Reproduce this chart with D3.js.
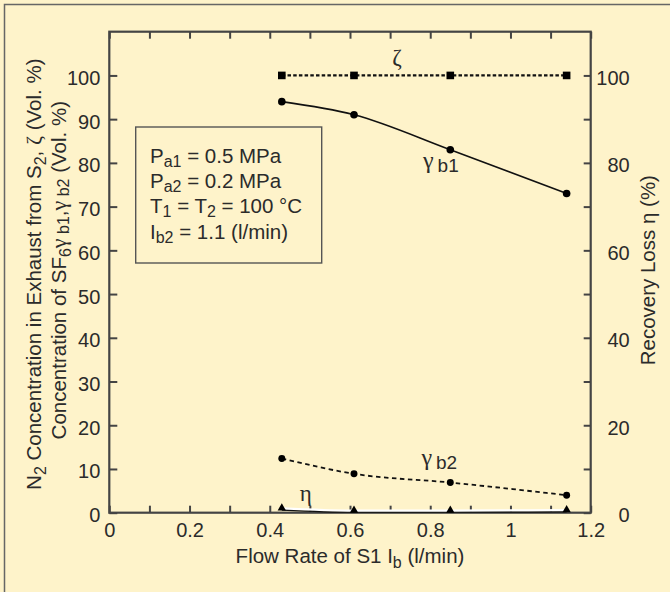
<!DOCTYPE html>
<html>
<head>
<meta charset="utf-8">
<script src="https://cdn.jsdelivr.net/npm/d3@7"></script>
<style>
  body { margin: 0; background: #fef3ca; }
  svg { display: block; font-family: "Liberation Sans", Arial, Helvetica, sans-serif; }
</style>
</head>
<body>
<svg id="chart" width="670" height="592"></svg>
<script>
// flow rate of S1 (l/min)
var flowRate = [0.43, 0.61, 0.85, 1.14];
// series values
var zeta = [100, 100, 100, 100];
var gammaB1 = [94, 91, 83, 73];
var gammaB2 = [12.4, 8.9, 6.9, 4.0];
var eta = [0.6, 0.1, 0.1, 0.2];

var xTicks = [0, 0.1, 0.2, 0.3, 0.4, 0.5, 0.6, 0.7, 0.8, 0.9, 1.0, 1.1, 1.2];
var xTickLabels = [0, 0.2, 0.4, 0.6, 0.8, 1, 1.2];
var leftTicks = [0, 10, 20, 30, 40, 50, 60, 70, 80, 90, 100];
var rightTicks = [0, 10, 20, 30, 40, 50, 60, 70, 80, 90, 100];
var rightTickLabels = [0, 20, 40, 60, 80, 100];

var ink = "#2b2b2b";
var axisInk = "#444";
var fs = 20.5, fsSub = 16;

var svg = d3.select("#chart");

// outer frame (only top/left visible, like the reference)
svg.append("rect")
  .attr("x", 4.5).attr("y", 4.5)
  .attr("width", 680).attr("height", 600)
  .attr("fill", "#fef3ca")
  .attr("stroke", "#666").attr("stroke-width", 1.5);

var pLeft = 109.3, pRight = 590.7, pTop = 31.7, pBottom = 512.7;

var x = d3.scaleLinear().domain([0, 1.2]).range([pLeft, pRight]);
var y = d3.scaleLinear().domain([0, 110]).range([pBottom, pTop]);
var yR = d3.scaleLinear().domain([0, 110]).range([pBottom, pTop]);

function fmtX(d) {
  return xTickLabels.some(function(v) { return Math.abs(v - d) < 1e-6; }) ? d3.format("~g")(d) : "";
}

function styleAxis(g) {
  g.select(".domain").remove();
  g.selectAll(".tick line").attr("stroke", axisInk).attr("stroke-width", 2);
  g.selectAll(".tick text").attr("fill", ink).attr("font-size", 20);
}

svg.append("g")
  .attr("transform", "translate(0," + pBottom + ")")
  .call(d3.axisBottom(x).tickValues(xTicks).tickSize(-7).tickPadding(10).tickFormat(fmtX))
  .call(styleAxis);

svg.append("g")
  .attr("transform", "translate(0," + pTop + ")")
  .call(d3.axisTop(x).tickValues(xTicks).tickSize(-7).tickFormat(""))
  .call(styleAxis);

svg.append("g")
  .attr("transform", "translate(" + pLeft + ",0)")
  .call(d3.axisLeft(y).tickValues(leftTicks).tickSize(-8).tickPadding(9))
  .call(styleAxis)
  .call(function(g) { g.selectAll(".tick text").attr("dy", "0.45em"); });

svg.append("g")
  .attr("transform", "translate(" + pRight + ",0)")
  .call(d3.axisRight(yR).tickValues(rightTicks).tickSize(-7)
    .tickFormat(function(d) { return rightTickLabels.indexOf(d) >= 0 ? d : ""; }))
  .call(styleAxis)
  .call(function(g) {
    g.selectAll(".tick text").attr("x", 39).attr("text-anchor", "end").attr("dy", "0.45em");
  });

// plot frame
svg.append("rect")
  .attr("x", pLeft).attr("y", pTop)
  .attr("width", pRight - pLeft).attr("height", pBottom - pTop)
  .attr("fill", "none").attr("stroke", axisInk).attr("stroke-width", 2.2);

// series
function pts(vals) {
  return flowRate.map(function(f, i) { return [f, vals[i]]; });
}
var line = d3.line()
  .x(function(d) { return x(d[0]); })
  .y(function(d) { return y(d[1]); })
  .curve(d3.curveMonotoneX);

var plot = svg.append("g");

// eta: light line along the axis
plot.append("path").attr("d", line(pts(eta)))
  .attr("fill", "none").attr("stroke", "#fff").attr("stroke-width", 2.5)
  .attr("transform", "translate(0,-1.5)");
plot.append("path").attr("d", line(pts(eta)))
  .attr("fill", "none").attr("stroke", "#111").attr("stroke-width", 1.2);

plot.append("path").attr("d", line(pts(zeta)))
  .attr("fill", "none").attr("stroke", "#111").attr("stroke-width", 2.2)
  .attr("stroke-dasharray", "3.5,2.2");

plot.append("path").attr("d", line(pts(gammaB1)))
  .attr("fill", "none").attr("stroke", "#111").attr("stroke-width", 1.6);

plot.append("path").attr("d", line(pts(gammaB2)))
  .attr("fill", "none").attr("stroke", "#111").attr("stroke-width", 1.8)
  .attr("stroke-dasharray", "4.5,3.5");

plot.selectAll(".sq").data(pts(zeta)).enter().append("rect")
  .attr("x", function(d) { return x(d[0]) - 3.8; })
  .attr("y", function(d) { return y(d[1]) - 3.8; })
  .attr("width", 7.6).attr("height", 7.6).attr("fill", "#000");

plot.selectAll(".c1").data(pts(gammaB1)).enter().append("circle")
  .attr("cx", function(d) { return x(d[0]); })
  .attr("cy", function(d) { return y(d[1]); })
  .attr("r", 3.8).attr("fill", "#000");

plot.selectAll(".c2").data(pts(gammaB2)).enter().append("path")
  .attr("transform", function(d) { return "translate(" + x(d[0]) + "," + y(d[1]) + ")"; })
  .attr("d", d3.symbol().type(d3.symbolCircle).size(38))
  .attr("fill", "#000");

plot.selectAll(".tri").data(pts(eta)).enter().append("path")
  .attr("transform", function(d) { return "translate(" + x(d[0]) + "," + (yR(d[1]) - 2) + ")"; })
  .attr("d", d3.symbol().type(d3.symbolTriangle).size(30))
  .attr("fill", "#000");

// series labels (placed in data units)
var greek = "'Liberation Serif', 'Times New Roman', serif";

svg.append("text")
  .attr("x", x(0.717)).attr("y", y(102.3))
  .attr("text-anchor", "middle").attr("font-family", greek)
  .attr("font-size", 23).attr("fill", ink).text("ζ");

function gammaLabel(fx, fy, sub) {
  var t = svg.append("text").attr("x", x(fx)).attr("y", y(fy)).attr("fill", ink);
  t.append("tspan").attr("font-family", greek).attr("font-size", 24).text("γ");
  t.append("tspan").attr("dx", 4).attr("dy", 4).attr("font-size", 19).text(sub);
}
gammaLabel(0.782, 78.8, "b1");
gammaLabel(0.778, 10.9, "b2");

svg.append("text")
  .attr("x", x(0.475)).attr("y", y(2.6))
  .attr("font-family", greek).attr("font-size", 23)
  .attr("fill", ink).text("η");

// parameter box
svg.append("rect")
  .attr("x", 135.7).attr("y", 127)
  .attr("width", 186).attr("height", 136)
  .attr("fill", "none").attr("stroke", "#555").attr("stroke-width", 1.4);

var boxLines = [
  [["P", ""], ["a1", "sub"], [" = 0.5 MPa", ""]],
  [["P", ""], ["a2", "sub"], [" = 0.2 MPa", ""]],
  [["T", ""], ["1", "sub"], [" = T", ""], ["2", "sub"], [" = 100 °C", ""]],
  [["I", ""], ["b2", "sub"], [" = 1.1 (l/min)", ""]]
];
boxLines.forEach(function(parts, i) {
  var t = svg.append("text")
    .attr("x", 150).attr("y", 163 + i * 25.2)
    .attr("font-size", fs).attr("fill", ink);
  var shift = 0;
  parts.forEach(function(p) {
    var s = t.append("tspan").text(p[0]);
    if (p[1] === "sub") {
      s.attr("font-size", fsSub).attr("dy", 4 - shift);
      shift = 4;
    } else {
      s.attr("dy", -shift);
      shift = 0;
    }
  });
});

// axis titles
var xt = svg.append("text")
  .attr("x", (pLeft + pRight) / 2).attr("y", 563)
  .attr("text-anchor", "middle").attr("font-size", fs).attr("fill", ink);
xt.append("tspan").text("Flow Rate of S1 I");
xt.append("tspan").attr("font-size", fsSub).attr("dy", 5).text("b");
xt.append("tspan").attr("dy", -5).text(" (l/min)");

var cy = (pTop + pBottom) / 2;

var yt1 = svg.append("text")
  .attr("transform", "translate(41," + (cy + 2) + ") rotate(-90)")
  .attr("text-anchor", "middle").attr("font-size", fs).attr("fill", ink);
yt1.append("tspan").text("N");
yt1.append("tspan").attr("font-size", fsSub).attr("dy", 5).text("2");
yt1.append("tspan").attr("dy", -5).text(" Concentration in Exhaust from S");
yt1.append("tspan").attr("font-size", fsSub).attr("dy", 5).text("2");
yt1.append("tspan").attr("dy", -5).text(", ");
yt1.append("tspan").attr("font-family", greek).attr("font-size", 22).text("ζ");
yt1.append("tspan").text(" (Vol. %)");

var yt2 = svg.append("text")
  .attr("transform", "translate(66," + (cy - 2) + ") rotate(-90)")
  .attr("text-anchor", "middle").attr("font-size", fs).attr("fill", ink);
yt2.append("tspan").text("Concentration of SF");
yt2.append("tspan").attr("font-size", fsSub).attr("dy", 5).text("6");
yt2.append("tspan").attr("dy", -5).attr("font-family", greek).attr("font-size", 22).text("γ");
yt2.append("tspan").attr("font-size", fsSub).attr("dy", 3).text(" b1");
yt2.append("tspan").attr("dy", -3).text(",");
yt2.append("tspan").attr("font-family", greek).attr("font-size", 22).text("γ");
yt2.append("tspan").attr("font-size", fsSub).attr("dy", 3).text(" b2");
yt2.append("tspan").attr("dy", -3).text(" (Vol. %)");

svg.append("text")
  .attr("transform", "translate(655," + (cy - 2) + ") rotate(-90)")
  .attr("text-anchor", "middle").attr("font-size", fs).attr("fill", ink)
  .text("Recovery Loss η (%)");
</script>
</body>
</html>
